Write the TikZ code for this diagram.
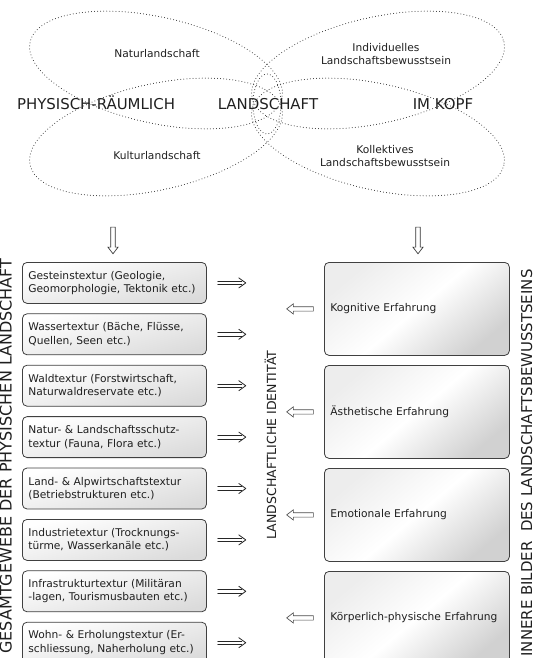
\documentclass[tikz,border=0pt]{standalone}
\usepackage{fontspec}
\setmainfont{DejaVu Sans}
\usetikzlibrary{arrows.meta,shapes.arrows}
\definecolor{boxline}{rgb}{0.25,0.25,0.25}
\definecolor{txt}{rgb}{0.12,0.12,0.12}
\tikzset{
  petal/.style={draw=black!85, line width=0.75pt, line cap=round, dash pattern=on 0pt off 2.3pt},
  bigtext/.style={font=\fontsize{11.2}{13}\selectfont, text=txt, inner sep=0pt},
  smalltext/.style={font=\fontsize{8}{10}\selectfont, text=txt, align=center, inner sep=0pt},
  vlabel/.style={text=txt, inner sep=0pt, anchor=base, rotate=90},
  leftbox/.style={draw=boxline, line width=0.6pt, rounded corners=3.5pt,
    top color=white, bottom color=black!14, shading angle=15,
    minimum width=138pt, minimum height=30.75pt, text width=129pt, inner xsep=4.5pt,
    align=left, anchor=north west, font=\fontsize{8}{10}\selectfont, text=txt},
  rightbox/.style={draw=boxline, line width=0.6pt, rounded corners=3.5pt,
    top color=black!7, bottom color=black!18, middle color=white, shading angle=40,
    minimum width=138.75pt, minimum height=69.75pt, text width=129.75pt, inner xsep=4.5pt,
    align=left, anchor=north west, font=\fontsize{8}{10}\selectfont, text=txt},
  downarrow/.style={single arrow, draw=black!80, fill=white, line width=0.5pt,
    shape border rotate=270, minimum height=20pt, inner sep=1.4pt,
    single arrow head extend=2.2pt, single arrow tip angle=75},
  backarrow/.style={single arrow, draw=black!70, fill=white, line width=0.5pt,
    shape border rotate=180, minimum height=20pt, inner sep=1.4pt,
    single arrow head extend=2.2pt, single arrow tip angle=75},
  impline/.style={draw=black!85, line width=0.6pt, line cap=round, line join=round}
}
\begin{document}
\begin{tikzpicture}[x=0.75pt,y=0.75pt,yscale=-1,xscale=1]
\useasboundingbox (0,0) rectangle (544,658);
\clip (0,0) rectangle (544,658);

%Petals round the centre
\draw[petal, rotate around={12.6:(156,70)}] (156,70) ellipse [x radius=129, y radius=53];
\draw[petal, rotate around={-12.6:(156,137)}] (156,137) ellipse [x radius=129, y radius=53];
\draw[petal, rotate around={-12.6:(378,70)}] (378,70) ellipse [x radius=129, y radius=53];
\draw[petal, rotate around={12.6:(378,137)}] (378,137) ellipse [x radius=129, y radius=53];
\draw[petal] (267,104) ellipse [x radius=14, y radius=30];

%Labels of the petals
\node[bigtext, anchor=base] (phys) at (96,109) {PHYSISCH-RÄUMLICH};
\node[bigtext, anchor=base] (land) at (268,109) {LANDSCHAFT};
\node[bigtext, anchor=base] (kopf) at (443,109) {IM KOPF};
\node[smalltext] (natur) at (157,54) {Naturlandschaft};
\node[smalltext] (indiv) at (386,54) {Individuelles\\Landschaftsbewusstsein};
\node[smalltext] (kultur) at (157,156) {Kulturlandschaft};
\node[smalltext] (kollek) at (385,156) {Kollektives\\Landschaftsbewusstsein};

%Down arrows
\node[downarrow] (downl) at (113,239) {};
\node[downarrow] (downr) at (418,239) {};

%Textures (left column)
\foreach \t [count=\i] in {{Gesteinstextur (Geologie,\\Geomorphologie, Tektonik etc.)},
  {Wassertextur (Bäche, Flüsse,\\Quellen, Seen etc.)},
  {Waldtextur (Forstwirtschaft,\\Naturwaldreservate etc.)},
  {Natur- \& Landschaftsschutz-\\textur (Fauna, Flora etc.)},
  {Land- \& Alpwirtschaftstextur\\(Betriebstrukturen etc.)},
  {Industrietextur (Trocknungs-\\türme, Wasserkanäle etc.)},
  {Infrastrukturtextur (Militäran\\-lagen, Tourismusbauten etc.)},
  {Wohn- \& Erholungstextur (Er-\\schliessung, Naherholung etc.)}}{
  \node[leftbox] (tex\i) at (22,{262+(\i-1)*51.4}) {\t};
  \coordinate (imp\i) at ([xshift=8.25pt]tex\i.east);
  % long double arrow
  \draw[impline] (imp\i) ++(0,-1.8) -- ++(24,0) (imp\i) ++(0,1.8) -- ++(24,0);
  \draw[impline] (imp\i) ++(21,-5) .. controls ++(3,3) .. ++(7,5) .. controls ++(-4,2) .. ++(-7,5);
}

%Experiences (right column)
\foreach \t [count=\i] in {Kognitive Erfahrung, Ästhetische Erfahrung,
  Emotionale Erfahrung, Körperlich-physische Erfahrung}{
  \node[rightbox] (erf\i) at (324,{262+(\i-1)*103}) {\t};
  \node[backarrow] (back\i) at ([xshift=-16.9pt]erf\i.west) {};
}

%Vertical titles
\node[vlabel, font=\fontsize{12}{14}\selectfont] (gesamt) at (11.5,456) {GESAMTGEWEBE DER PHYSISCHEN LANDSCHAFT};
\node[vlabel, font=\fontsize{9.4}{11}\selectfont] (ident) at (276,445) {LANDSCHAFTLICHE IDENTITÄT};
\node[vlabel, font=\fontsize{11.2}{13}\selectfont] (innere) at (532,463) {INNERE BILDER\ \ DES LANDSCHAFTSBEWUSSTSEINS};

\end{tikzpicture}
\end{document}
